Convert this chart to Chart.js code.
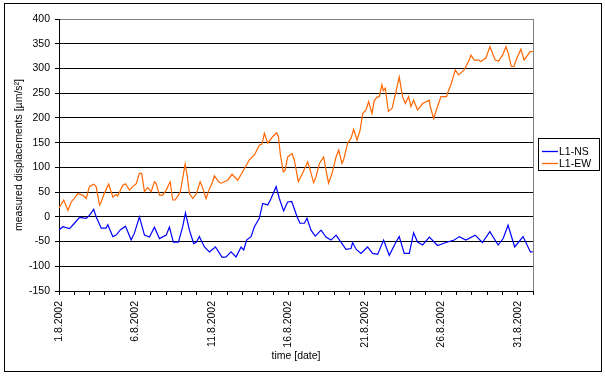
<!DOCTYPE html>
<html><head><meta charset="utf-8">
<script src="https://cdn.jsdelivr.net/npm/chart.js@4.4.0/dist/chart.umd.min.js"></script>
<style>html,body{margin:0;padding:0;background:#fff;}#wrap{width:605px;height:376px;}</style>
</head><body><div id="wrap"><canvas id="c" width="605" height="376"></canvas></div>
<script>
// Tick labels for the date axis (every 5th day, day 0 = 1.8.2002)
const dateLabels = ['1.8.2002','6.8.2002','11.8.2002','16.8.2002','21.8.2002','26.8.2002','31.8.2002'];
const seriesNames = ['L1-NS','L1-EW'];

// L1-EW: time in days since 1.8.2002 and measured values
const ewDays = [0,0.31,0.58,0.80,1.01,1.23,1.56,1.78,1.99,2.27,
2.43,2.65,2.76,2.97,3.25,3.52,3.74,3.84,4.17,4.35,
4.61,4.82,5.05,5.26,5.41,5.59,5.80,6.03,6.24,6.35,
6.57,6.78,7.01,7.27,7.44,7.59,7.81,7.94,8.25,8.38,
8.53,8.75,8.99,9.23,9.40,9.62,9.84,10.05,10.16,10.44,
10.60,11.03,11.32,11.69,12.01,12.45,12.78,13.10,13.28,13.43,
13.65,13.97,14.24,14.35,14.48,14.67,14.80,14.95,15.24,15.39,
15.65,15.93,16.26,16.37,16.65,16.81,17.03,17.31,17.42,17.63,
17.86,18.12,18.29,18.51,18.61,18.88,19.10,19.27,19.49,19.69,
19.86,20.08,20.25,20.47,20.62,20.80,20.95,21.12,21.21,21.34,
21.54,21.78,22.04,22.25,22.47,22.65,22.86,23.02,23.19,23.45,
23.78,24.22,24.28,24.50,24.76,24.98,25.35,25.41,25.63,25.92,
26.13,26.50,26.83,26.94,27.16,27.44,27.60,27.92,28.18,28.53,
28.75,29.01,29.23,29.38,29.58,29.75,29.99,30.21,30.42,30.65,
30.81,30.98];
const ewValues = [18,34,13,30,38,47,44,37,61,66,
61,24,30,48,66,40,45,42,64,67,
54,61,67,88,88,51,59,51,71,68,
44,44,54,71,34,34,44,51,107,84,
47,37,47,71,58,37,57,71,83,71,
68,74,86,74,91,115,125,145,147,169,
149,162,170,162,125,91,95,121,128,115,
71,88,111,101,69,81,108,121,101,68,
88,121,135,108,115,149,159,177,155,175,
209,216,233,209,235,242,243,267,255,260,
213,219,253,283,243,229,243,223,236,216,
229,236,223,199,223,243,243,250,267,297,
287,297,317,327,317,317,314,321,344,317,
315,327,344,331,304,304,324,339,317,327,
334,334];

// L1-NS
const nsDays = [0,0.25,0.69,1.01,1.34,1.78,1.99,2.27,2.43,2.76,
3.08,3.19,3.52,3.74,4.02,4.35,4.72,4.93,5.26,5.59,
5.92,6.24,6.57,7.01,7.22,7.48,7.81,8.09,8.27,8.53,
8.81,8.99,9.18,9.51,9.84,10.23,10.67,10.93,11.25,11.58,
11.91,12.08,12.27,12.56,12.78,13.10,13.32,13.65,13.87,14.20,
14.41,14.69,14.95,15.22,15.57,15.76,16.05,16.22,16.48,16.76,
17.14,17.46,17.79,18.12,18.44,18.77,19.10,19.20,19.44,19.75,
20.18,20.51,20.84,21.23,21.60,22.04,22.25,22.58,22.91,23.19,
23.45,23.78,24.22,24.76,25.31,25.85,26.18,26.61,27.22,27.69,
28.18,28.72,29.05,29.37,29.80,30.35,30.83,30.98];
const nsValues = [-27,-20,-24,-13,-1,-3,3,15,0,-23,
-23,-16,-40,-37,-26,-19,-47,-33,0,-37,
-41,-21,-44,-37,-21,-51,-51,-20,8,-27,
-54,-51,-40,-61,-71,-61,-82,-81,-71,-81,
-61,-67,-47,-40,-20,-3,27,24,37,61,
37,12,30,31,0,-13,-13,-3,-27,-39,
-27,-41,-47,-37,-51,-66,-64,-52,-66,-74,
-61,-74,-76,-47,-78,-51,-40,-74,-74,-32,
-51,-57,-41,-58,-52,-47,-40,-47,-37,-52,
-30,-57,-44,-17,-61,-40,-71,-71];

const FONT = '"Liberation Sans", Arial, sans-serif';
Chart.defaults.font.family = FONT;
Chart.defaults.font.size = 10.5;
Chart.defaults.color = '#000';

const toPts = (xs, ys) => xs.map((x, i) => ({x: x, y: ys[i]}));

const frame = {
  id: 'frame',
  afterDraw(chart) {
    const ctx = chart.ctx, a = chart.chartArea;
    ctx.save();
    ctx.lineWidth = 1;
    // gray right border of plot area
    ctx.strokeStyle = '#808080';
    const rx = Math.round(a.right) + 0.5;
    ctx.beginPath(); ctx.moveTo(rx, a.top); ctx.lineTo(rx, a.bottom); ctx.stroke();
    // outer chart border
    ctx.strokeStyle = '#000';
    ctx.strokeRect(4.5, 3.5, 597, 368);
    // legend box
    ctx.fillStyle = '#fff';
    ctx.fillRect(538.5, 138.5, 61, 32);
    ctx.strokeRect(538.5, 138.5, 61, 32);
    ctx.font = '10.5px ' + FONT;
    ctx.textBaseline = 'middle';
    ctx.textAlign = 'left';
    chart.data.datasets.forEach((ds, i) => {
      const y = 151.5 + i * 12;
      ctx.strokeStyle = ds.borderColor;
      ctx.lineWidth = 1.3;
      ctx.beginPath(); ctx.moveTo(542, y); ctx.lineTo(558, y); ctx.stroke();
      ctx.fillStyle = '#000';
      ctx.fillText(ds.label, 559, y + 0.5);
    });
    ctx.restore();
  }
};

new Chart(document.getElementById('c'), {
  type: 'line',
  data: {
    datasets: [
      {label: seriesNames[0], data: toPts(nsDays, nsValues), borderColor: '#0000FF', borderWidth: 1.2, pointRadius: 0, tension: 0, fill: false},
      {label: seriesNames[1], data: toPts(ewDays, ewValues), borderColor: '#FF6600', borderWidth: 1.2, pointRadius: 0, tension: 0, fill: false}
    ]
  },
  options: {
    responsive: false,
    animation: false,
    devicePixelRatio: 1,
    layout: {padding: {left: 4, top: 19, right: 72, bottom: 14}},
    plugins: {legend: {display: false}, tooltip: {enabled: false}},
    scales: {
      x: {
        type: 'linear', min: 0, max: 31,
        ticks: {stepSize: 1, autoSkip: false, maxRotation: 90, minRotation: 90, padding: 6,
          callback: (v) => (v % 5 === 0 ? dateLabels[v / 5] : '')},
        grid: {drawOnChartArea: false, color: '#000', tickLength: 4},
        border: {color: '#000'},
        title: {display: true, text: 'time [date]', padding: 0},
        afterFit(s) { s.height = 71; }
      },
      y: {
        min: -150, max: 400,
        ticks: {stepSize: 50, padding: 5},
        grid: {color: (c) => (c.tick && c.tick.value === 400 ? '#808080' : '#000'), tickColor: '#000', tickLength: 4},
        border: {color: '#000'},
        title: {display: true, text: 'measured displacements [µm/s²]', padding: {top: 8.7, bottom: 0}},
        afterFit(s) { s.width = 55; }
      }
    }
  },
  plugins: [frame]
});
</script>
</body></html>
